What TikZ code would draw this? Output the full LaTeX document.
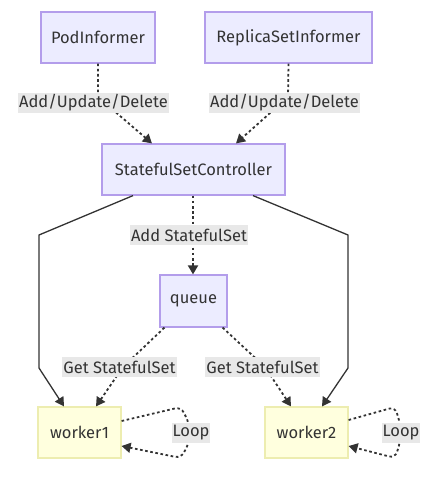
\documentclass[tikz,border=0pt]{standalone}
\usepackage{fontspec}
\setmainfont{Fira Sans}
\usetikzlibrary{arrows.meta}
\definecolor{nodefill}{HTML}{ECECFF}
\definecolor{nodeborder}{HTML}{B39DEB}
\definecolor{wfill}{HTML}{FFFFDE}
\definecolor{wborder}{HTML}{EDEDB0}
\definecolor{edgec}{HTML}{333333}
\definecolor{lblbg}{HTML}{E8E8E8}
\definecolor{txt}{HTML}{333333}
\begin{document}
\begin{tikzpicture}[x=1pt,y=-1pt,font=\fontsize{16.5}{19}\selectfont]
\useasboundingbox (0,0) rectangle (434,478);
\tikzset{
  box/.style={draw=nodeborder, fill=nodefill, line width=1.2pt, minimum height=51pt, inner sep=0pt, text=txt},
  wbox/.style={draw=wborder, fill=wfill, line width=1.2pt, minimum height=51pt, minimum width=83pt, inner sep=0pt, text=txt},
  lbl/.style={fill=lblbg, inner sep=1pt, text=txt, minimum height=20pt},
  tip/.style={-{Triangle[length=9pt,width=10pt]}},
  dotted edge/.style={draw=edgec, line width=1.8pt, dash pattern=on 2.6pt off 2.6pt, tip},
  solid edge/.style={draw=edgec, line width=1.3pt, tip}
}
\node[box, minimum width=114pt] (pod) at (98,37.5) {PodInformer};
\node[box, minimum width=167pt] (rsi) at (288.5,37.5) {ReplicaSetInformer};
\node[box, minimum width=183pt] (ssc) at (193.5,169.5) {StatefulSetController};
\node[box, minimum width=67pt, minimum height=52pt] (queue) at (193.5,301) {queue};
\node[wbox] (w1) at (79.5,432.5) {worker1};
\node[wbox] (w2) at (306.5,432.5) {worker2};

% informer edges
\draw[dotted edge] (pod.south) -- (98,97) -- ([xshift=-41.5pt]ssc.north);
\draw[dotted edge] (rsi.south) -- (288,97) -- ([xshift=42.5pt]ssc.north);
\node[lbl] (l1) at (93.5,103) {Add/Update/Delete};
\node[lbl] (l2) at (284.5,103) {Add/Update/Delete};

% controller to queue
\draw[dotted edge] ([xshift=-0.5pt]ssc.south) -- ([xshift=-0.5pt]queue.north);
\node[lbl] (l3) at (189,235) {Add StatefulSet};

% controller to workers
\draw[solid edge] ([xshift=-60.5pt]ssc.south) -- (39,235) -- (39,368) -- ([xshift=-15.5pt]w1.north);
\draw[solid edge] ([xshift=59.5pt]ssc.south) -- (348,235) -- (348,368) -- ([xshift=15.5pt]w2.north);

% queue to workers
\draw[dotted edge] ([xshift=5pt]queue.south west) -- (123,367) -- ([xshift=16.5pt]w1.north);
\draw[dotted edge] ([xshift=-5pt]queue.south east) -- (265,367) -- ([xshift=-15.5pt]w2.north);
\node[lbl] (l4) at (119.5,367) {Get StatefulSet};
\node[lbl] (l5) at (262.5,367) {Get StatefulSet};

% loops
\draw[dotted edge, rounded corners=6pt] ([yshift=11.5pt]w1.east) -- (181,407) -- (189,423) -- (189,443) -- (181,458) -- ([yshift=-13.5pt]w1.east);
\draw[dotted edge, rounded corners=6pt] ([yshift=12.5pt]w2.east) -- (395,407) -- (400,423) -- (400,443) -- (395,458) -- ([yshift=-13.5pt]w2.east);
\node[lbl] (l6) at (191,433) {Loop};
\node[lbl] (l7) at (401,433) {Loop};
\end{tikzpicture}
\end{document}
